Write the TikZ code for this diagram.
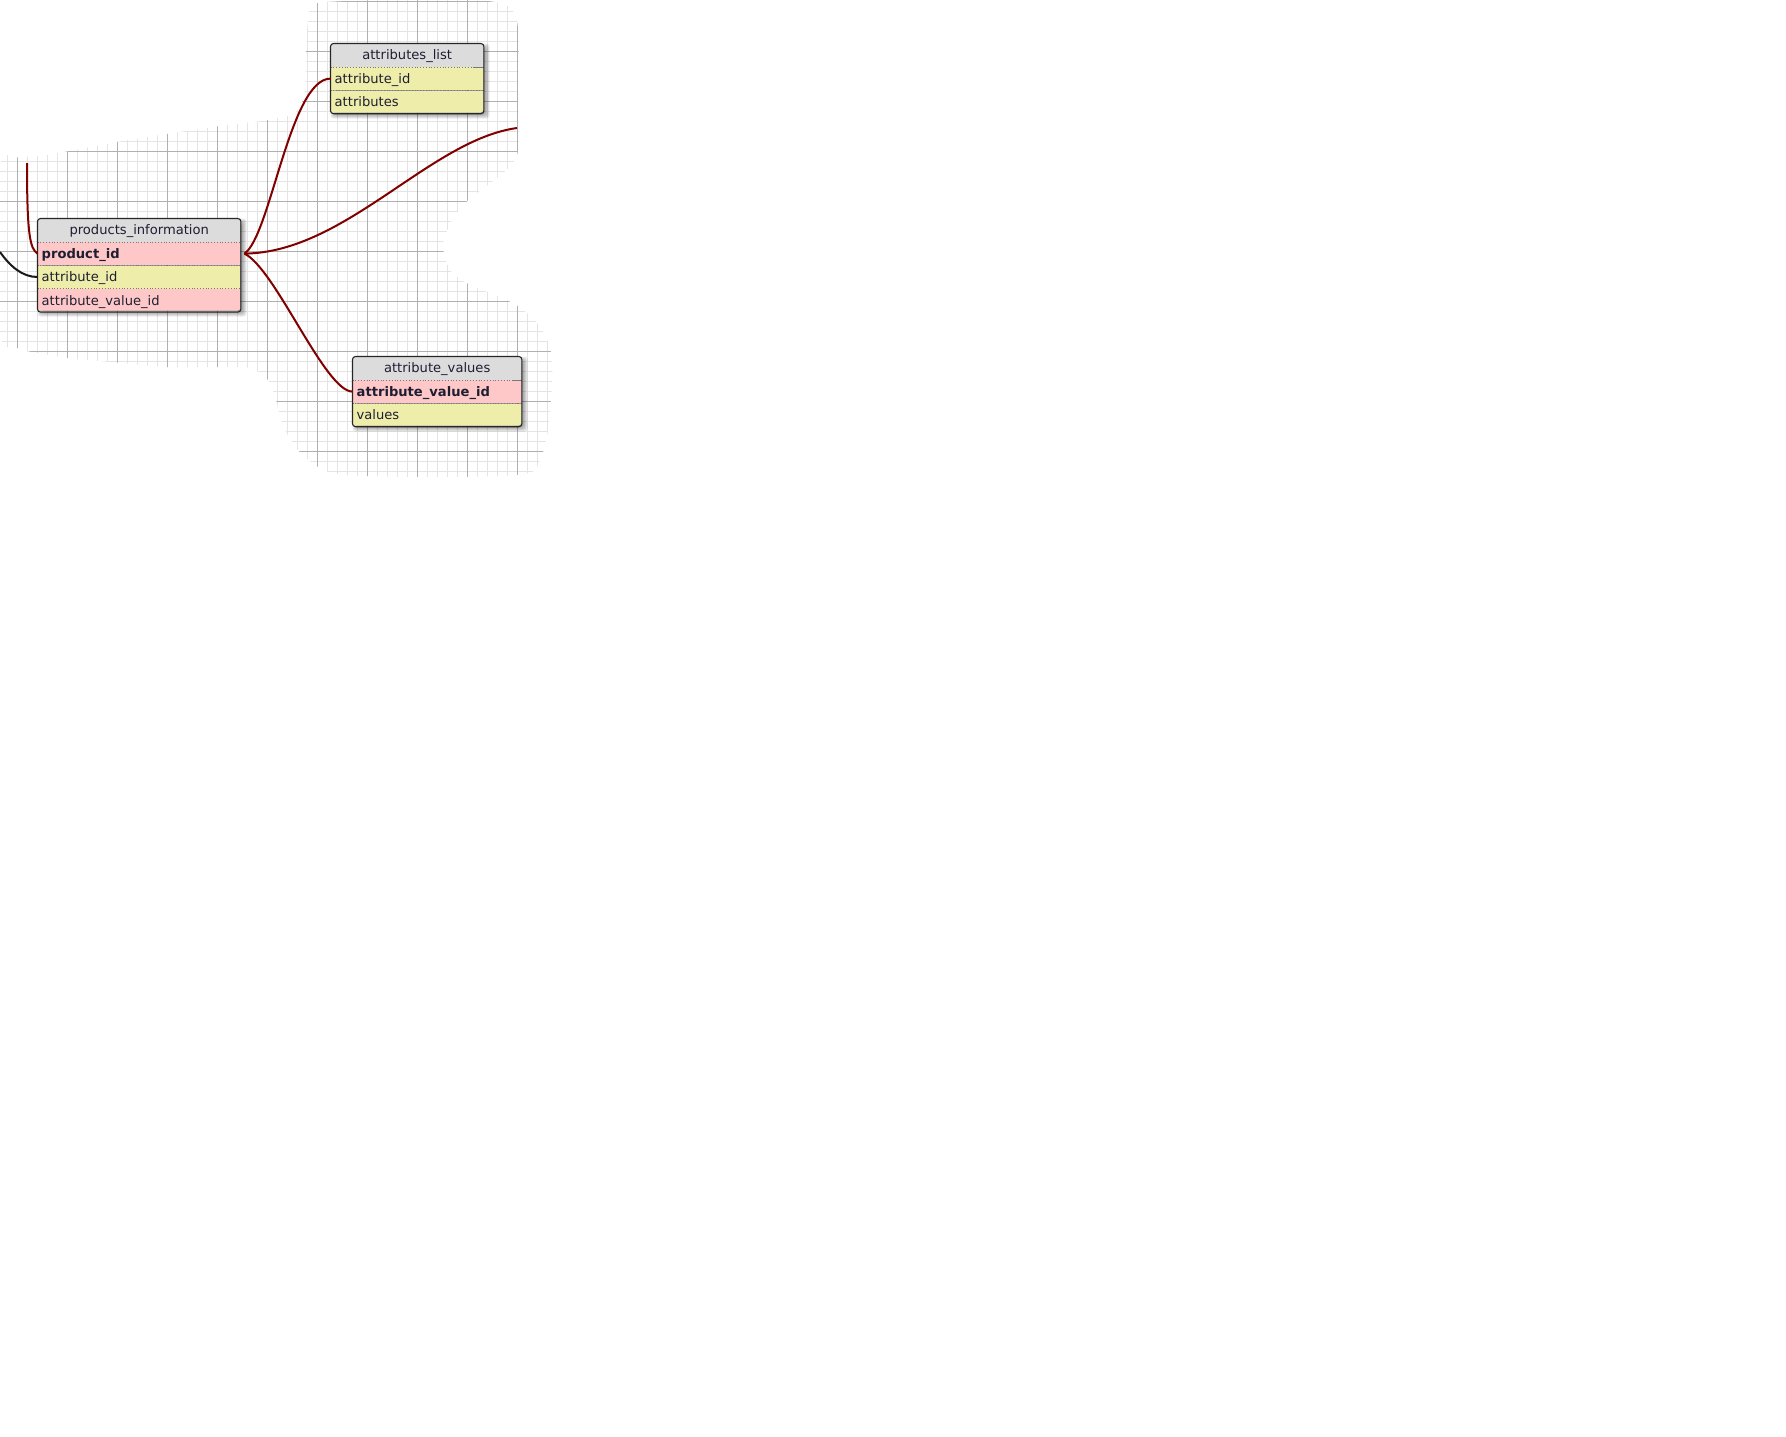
\documentclass[tikz,border=0pt]{standalone}
\usepackage{fontspec}
\setmainfont{DejaVu Sans}
\usetikzlibrary{calc}
\definecolor{hdrgray}{RGB}{220,220,220}
\definecolor{pkpink}{RGB}{255,200,200}
\definecolor{fkyel}{RGB}{238,238,170}
\definecolor{relred}{RGB}{128,0,0}
\definecolor{gridminor}{RGB}{228,228,228}
\definecolor{gridmajor}{RGB}{176,176,176}
\definecolor{txt}{RGB}{30,30,50}
\definecolor{sepgray}{RGB}{120,120,120}
\newcommand{\tblshadow}[4]{%
  \foreach \e in {-2,-1,0,1,2,3}{%
    \fill[black,opacity=0.08,rounded corners=3pt] (#1+3-\e,#2+3-\e) rectangle (#3+3+\e,#4+3+\e);}}
\begin{document}
\begin{tikzpicture}[x=1pt,y=-1pt,
  cell/.style={rectangle, inner xsep=4pt, inner ysep=0pt, minimum height=23pt,
    text height=10.6pt, text depth=1.2pt, font=\fontsize{13.1}{15}\selectfont,
    text=txt, anchor=north west},
  hdr/.style={cell, fill=hdrgray, align=center},
  pk/.style={cell, fill=pkpink, align=left},
  fk/.style={cell, fill=fkyel, align=left},
  sep/.style={draw=sepgray, dotted, line width=0.8pt},
  sepsolid/.style={draw=sepgray, line width=0.8pt},
  border/.style={draw=black!85, line width=1.1pt, rounded corners=3pt},
  rel/.style={draw=relred, line width=2pt},
  relblack/.style={draw=black!90, line width=2pt},
  minorline/.style={draw=gridminor, line width=1pt},
  majorline/.style={draw=gridmajor, line width=1pt}]

\fill[white] (0,0) rectangle (1786,1436);
\useasboundingbox (0,0) rectangle (1786,1436);

% ---------- grid background ----------
\begin{scope}
  \clip plot[smooth cycle, tension=0.5] coordinates {
    (318,3) (400,0) (495,2) (517,22) (518,90) (518,150) (508,168) (488,185)
    (468,200) (452,220) (443,245) (450,270) (470,285) (500,297) (522,309)
    (540,327) (551,352) (552,385) (548,430) (540,460) (525,474) (440,477)
    (338,474) (303,455) (284,428) (276,400) (268,380) (250,368) (217,367)
    (167,367) (100,361) (67,358) (17,348) (0,330) (0,168) (15,158) (40,156)
    (70,151) (117,142) (160,135) (220,126) (268,120) (296,112) (305,90)
    (306,50) (309,15)};
  \foreach \x in {7,17,...,557} \draw[minorline] (\x,0) -- (\x,480);
  \foreach \y in {1,11,...,481} \draw[minorline] (0,\y) -- (560,\y);
  \foreach \x in {17,67,...,567} \draw[majorline] (\x,0) -- (\x,480);
  \foreach \y in {1,51,...,451} \draw[majorline] (0,\y) -- (560,\y);
\end{scope}

% ---------- products_information ----------
\tblshadow{37.5}{218.5}{240.5}{310.5}
\begin{scope}
  \clip[rounded corners=3pt] (37.5,218.5) rectangle (240.5,310.5);
  \node[hdr, text width=195pt] (pi-h) at (37.5,218.5) {products\_information};
  \node[pk, text width=195pt] (pi-r1) at (pi-h.south west) {\bfseries product\_id};
  \node[fk, text width=195pt] (pi-r2) at (pi-r1.south west) {attribute\_id};
  \node[pk, text width=195pt] (pi-r3) at (pi-r2.south west) {attribute\_value\_id};
\end{scope}
\draw[sep] (pi-r1.north west) -- (pi-r1.north east);
\draw[sep] (pi-r2.north west) -- (pi-r2.north east);
\draw[sep] (pi-r3.north west) -- (pi-r3.north east);
\draw[border] (pi-h.north west) rectangle (pi-r3.south east);

% ---------- attributes_list ----------
\tblshadow{330.5}{43.5}{483.5}{112.5}
\begin{scope}
  \clip[rounded corners=3pt] (330.5,43.5) rectangle (483.5,112.5);
  \node[hdr, text width=145pt] (al-h) at (330.5,43.5) {attributes\_list};
  \node[fk, text width=145pt] (al-r1) at (al-h.south west) {attribute\_id};
  \node[fk, text width=145pt] (al-r2) at (al-r1.south west) {attributes};
\end{scope}
\draw[sep] (al-r1.north west) -- (al-r1.north east);
\draw[sepsolid] ($(al-r1.north east)+(-11,0)$) -- (al-r1.north east);
\draw[sep] (al-r2.north west) -- (al-r2.north east);
\draw[border] (al-h.north west) rectangle (al-r2.south east);

% ---------- attribute_values ----------
\tblshadow{352.5}{356.5}{521.5}{425.5}
\begin{scope}
  \clip[rounded corners=3pt] (352.5,356.5) rectangle (521.5,425.5);
  \node[hdr, text width=161pt] (av-h) at (352.5,356.5) {attribute\_values};
  \node[pk, text width=161pt] (av-r1) at (av-h.south west) {\bfseries attribute\_value\_id};
  \node[fk, text width=161pt] (av-r2) at (av-r1.south west) {values};
\end{scope}
\draw[sep] (av-r1.north west) -- (av-r1.north east);
\draw[sepsolid] ($(av-r1.north east)+(-10,0)$) -- (av-r1.north east);
\draw[sep] (av-r2.north west) -- (av-r2.north east);
\draw[border] (av-h.north west) rectangle (av-r2.south east);

% ---------- connectors ----------
\coordinate (hub) at ($(pi-r1.east)+(3.5,0)$);
\coordinate (offright) at (517,128);
\coordinate (offtop) at (27,163);
\coordinate (offleft) at (0,252);

\draw[rel] (hub) .. controls +(26,-17) and +(-40.5,0) .. (al-r1.west);
\draw[rel] (hub) .. controls +(101,-1) and +(-87,12) .. (offright);
\draw[rel] (hub) .. controls +(31,15) and +(-27.5,0) .. (av-r1.west);
\draw[rel] (offtop) .. controls +(0,72) and +(-7.5,-5) .. (pi-r1.west);
\draw[relblack] (offleft) .. controls +(10,14) and +(-15.5,0) .. (pi-r2.west);
\end{tikzpicture}
\end{document}
